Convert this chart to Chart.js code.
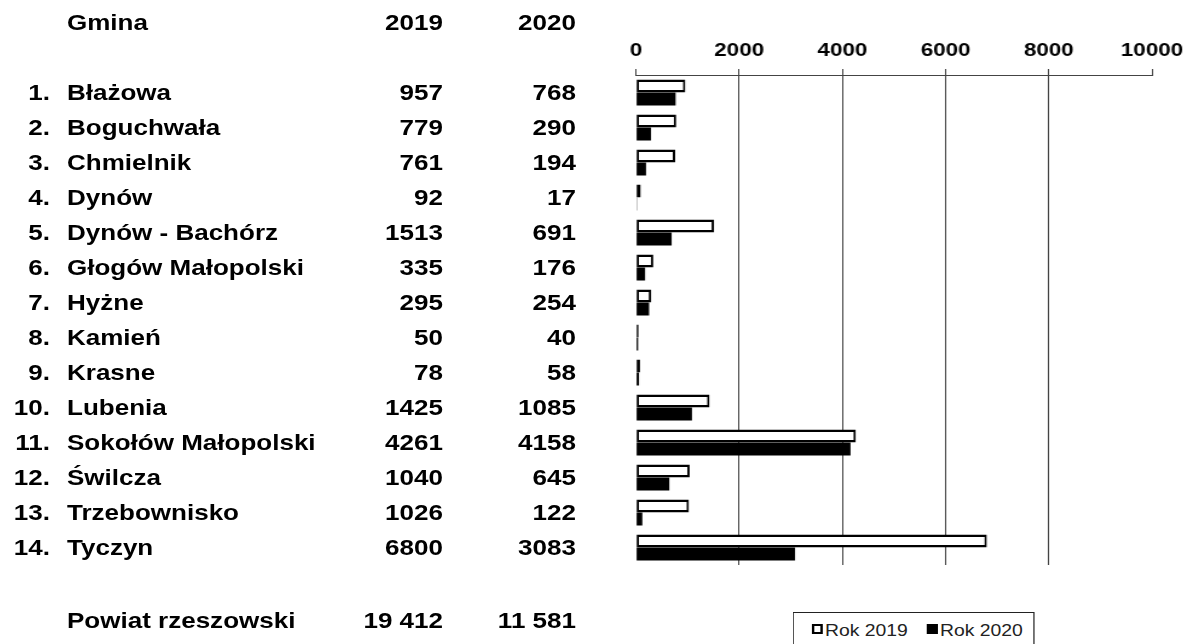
<!DOCTYPE html>
<html><head><meta charset="utf-8">
<script src="https://cdn.jsdelivr.net/npm/chart.js@4.4.1/dist/chart.umd.min.js"></script>
<style>
html,body{margin:0;padding:0;background:#fff;width:1185px;height:644px;overflow:hidden;}
#stage{position:absolute;left:0;top:0;height:644px;transform-origin:0 0;}
#cw{position:absolute;left:0;top:0;height:644px;}
.t{position:absolute;white-space:nowrap;font-family:"Liberation Sans",Arial,sans-serif;color:#000;}
</style></head><body>
<div id="stage"><div id="cw"><canvas id="c"></canvas></div></div>
<script>
// ---- data ----
const gminy = ['Błażowa','Boguchwała','Chmielnik','Dynów','Dynów - Bachórz','Głogów Małopolski','Hyżne','Kamień','Krasne','Lubenia','Sokołów Małopolski','Świlcza','Trzebownisko','Tyczyn'];
const numery = ['1.','2.','3.','4.','5.','6.','7.','8.','9.','10.','11.','12.','13.','14.'];
const rok2019 = [957,779,761,92,1513,335,295,50,78,1425,4261,1040,1026,6800];
const rok2020 = [768,290,194,17,691,176,254,40,58,1085,4158,645,122,3083];
const seriesLabels = ['Rok 2019','Rok 2020'];
const headers = ['Gmina','2019','2020'];
const totalLabel = 'Powiat rzeszowski';
const totals = ['19 412','11 581'];
const xMin = 0, xMax = 10000, xStep = 2000;

// ---- layout (screen px) ----
const S = 1.21;                 // horizontal stretch of the original picture
const W = 1185 / S;
const X = v => v / S;
const areaLeft = 636, areaRight = 1152, areaTop = 75, areaBottom = 565;
const rowH = (areaBottom - areaTop) / gminy.length;

const stage = document.getElementById('stage');
stage.style.width = W + 'px';
stage.style.transform = 'scaleX(' + S + ')';
document.getElementById('cw').style.width = W + 'px';

function txt(str, xs, yc, align, size, bold) {
  const d = document.createElement('div');
  d.className = 't';
  d.textContent = str;
  d.style.fontSize = size + 'px';
  d.style.lineHeight = (size * 1.117) + 'px';
  d.style.fontWeight = bold ? 'bold' : 'normal';
  d.style.left = X(xs) + 'px';
  d.style.top = (yc - 0.547 * size) + 'px';
  if (align === 'right') d.style.transform = 'translateX(-100%)';
  stage.appendChild(d);
  return d;
}
const TF = 21.5;
const colNum = 50, colName = 67, col19 = 443, col20 = 576;
txt(headers[0], colName, 22.5, 'left', TF, true);
txt(headers[1], col19, 22.5, 'right', TF, true);
txt(headers[2], col20, 22.5, 'right', TF, true);
gminy.forEach((g, i) => {
  const yc = areaTop + rowH * (i + 0.5);
  txt(numery[i], colNum, yc, 'right', TF, true);
  txt(g, colName, yc, 'left', TF, true);
  txt(String(rok2019[i]), col19, yc, 'right', TF, true);
  txt(String(rok2020[i]), col20, yc, 'right', TF, true);
});
txt(totalLabel, colName, 621, 'left', TF, true);
txt(totals[0], col19, 621, 'right', TF, true);
txt(totals[1], col20, 621, 'right', TF, true);

// legend (HTML)
const lg = document.createElement('div');
lg.style.cssText = 'position:absolute;border:1px solid #222;background:#fff;';
lg.style.left = X(793) + 'px'; lg.style.top = '612px';
lg.style.width = (X(1035) - X(793) - 2) + 'px'; lg.style.height = '60px';
stage.appendChild(lg);
function marker(xs, fill) {
  const m = document.createElement('div');
  m.style.cssText = 'position:absolute;box-sizing:border-box;border:2px solid #000;';
  m.style.background = fill;
  m.style.left = X(xs) + 'px'; m.style.top = '624px';
  m.style.width = X(11) + 'px'; m.style.height = '10px';
  stage.appendChild(m);
}
marker(812, '#fff');
txt(seriesLabels[0], 825, 631, 'left', 16, false).style.color = '#222';
marker(927, '#000');
txt(seriesLabels[1], 940, 631, 'left', 16, false).style.color = '#222';

// ---- chart ----
const gridCol = '#444';
const bw = 2.5;
new Chart(document.getElementById('c'), {
  type: 'bar',
  data: {
    labels: gminy,
    datasets: [
      { label: seriesLabels[0], data: rok2019, backgroundColor: '#ffffff', borderColor: '#000000',
        borderWidth: { top: bw, bottom: bw, left: bw / S, right: bw / S }, borderSkipped: false },
      { label: seriesLabels[1], data: rok2020, backgroundColor: '#000000', borderWidth: 0 }
    ]
  },
  options: {
    indexAxis: 'y',
    responsive: true,
    maintainAspectRatio: false,
    animation: false,
    categoryPercentage: 0.743,
    barPercentage: 1.0,
    layout: { padding: { left: X(areaLeft), right: W - X(areaRight), top: 0, bottom: 644 - areaBottom } },
    plugins: { legend: { display: false }, tooltip: { enabled: false } },
    scales: {
      x: {
        position: 'top',
        min: xMin, max: xMax,
        afterFit: s => { s.height = areaTop; s.paddingLeft = 0; s.paddingRight = 0; },
        ticks: { stepSize: xStep, color: '#000', padding: 7, maxRotation: 0,
                 callback: v => String(v),
                 font: { family: '"Liberation Sans", Arial, sans-serif', size: 18.5, weight: 'bold' } },
        grid: {
          color: c => (c.tick && (c.tick.value === xMin || c.tick.value === xMax)) ? 'rgba(0,0,0,0)' : gridCol,
          tickColor: gridCol, tickLength: 6, lineWidth: 1
        },
        border: { display: true, color: gridCol, width: 1 }
      },
      y: { display: false, grid: { display: false } }
    }
  }
});
</script>
</body></html>
